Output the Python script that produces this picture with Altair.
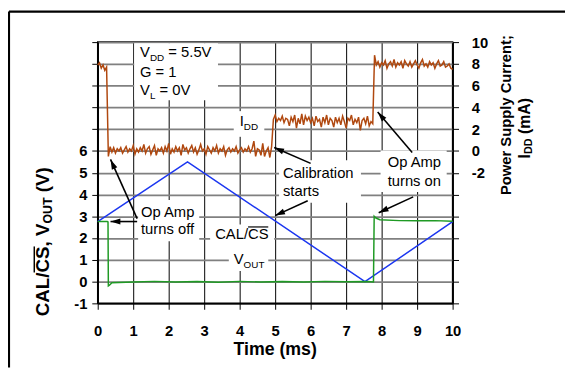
import math
import altair as alt
import pandas as pd

# ---------------- data ----------------
# CAL/CS (blue, left axis, V)
cal_t = [0.0, 2.53, 7.53, 10.0]
cal_v = [2.75, 5.50, 0.00, 2.75]

# VOUT (green, left axis, V)
vout_t = [0.00, 0.27, 0.29, 0.30, 0.33, 0.40, 1.00, 1.60, 2.20, 2.80,
          3.40, 4.00, 4.60, 5.20, 5.80, 6.40, 7.00, 7.60, 7.77, 7.79,
          7.84, 7.95, 8.50, 9.00, 9.50, 10.00]
vout_v = [2.76, 2.76, 2.74, -0.20, -0.17, -0.05, -0.02, 0.01, -0.02, 0.00,
          -0.03, 0.01, -0.02, 0.00, -0.02, 0.01, -0.01, 0.00, -0.02, 3.00,
          2.92, 2.84, 2.80, 2.79, 2.80, 2.77]

# IDD (brown, right axis, mA), sampled every 0.05 ms, in four segments
idd_step = 0.05
idd_seg_start = [0.00, 0.30, 4.95, 7.80]
idd_seg_a = [7.9, 8.1, 7.6, 7.9, 7.4, 7.7]
idd_seg_b = [-0.5, 0.4, -0.1, 0.3, -0.2, 0.2, 0.0, 0.3, -0.2, 0.1,
             0.4, -0.1, 0.2, 0.0, 0.5, -0.3, 0.2, -0.1, 0.3, 0.0,
             0.6, -0.2, 0.2, 0.4, -0.3, 0.1, 0.5, -0.4, 0.2, 0.0,
             0.3, -0.2, 0.4, 0.0, 0.7, -0.3, 0.2, -0.1, 0.4, 0.0,
             0.3, -0.4, 0.6, 0.1, 0.3, -0.2, 0.2, 0.5, -0.1, 0.3,
             -0.3, 0.1, 0.6, 0.0, 0.2, -0.3, 0.4, 0.1, -0.2, 0.3,
             0.0, 0.5, -0.2, 0.2, 0.0, 0.4, -0.4, 0.1, 0.3, -0.1,
             0.2, 0.0, 0.4, -0.2, 0.1, 0.3, -0.1, 0.2, 0.0, 0.4,
             -0.1, 0.2, 0.9, -0.5, 0.2, 0.1, -0.4, 0.7, -0.5, 0.0,
             0.3, -0.6, 0.4]
idd_seg_c = [2.9, 3.3, 2.7, 3.0, 2.8, 3.2, 2.6, 3.0, 2.9, 2.3,
             3.1, 2.7, 3.3, 2.1, 3.0, 2.5, 3.4, 2.4, 3.2, 2.8,
             3.1, 2.6, 3.0, 2.3, 3.2, 2.7, 2.9, 2.2, 3.1, 2.6,
             3.3, 2.4, 3.0, 2.8, 2.2, 3.1, 2.6, 3.0, 2.4, 3.2,
             2.7, 2.1, 3.0, 2.8, 3.3, 2.4, 2.9, 2.6, 3.1, 1.9,
             2.8, 3.0, 2.5, 3.2, 2.3, 2.7, 2.5]
idd_seg_d = [8.8, 7.9, 8.2, 7.7, 8.1, 7.9, 8.3, 7.6, 8.0, 8.2,
             7.8, 8.4, 7.7, 8.1, 7.9, 8.2, 7.6, 8.3, 8.0, 7.8,
             8.2, 7.7, 8.0, 8.3, 7.9, 7.6, 8.1, 8.4, 7.8, 8.0,
             7.7, 8.2, 7.9, 8.1, 7.6, 8.0, 8.3, 7.8, 7.9, 8.2,
             7.7, 7.8, 8.0, 7.6, 7.5]

# axis ticks
x_ticks = list(range(0, 11))
yl_ticks = list(range(-1, 12))
yr_ticks = list(range(-14, 11, 2))

# annotations (data units: time in ms, left axis in V)
note_txt = ["V", "= 5.5V", "G = 1", "V", "= 0V", "I", "Calibration", "starts",
            "Op Amp", "turns on", "Op Amp", "turns off", "CAL/CS", "V"]
note_t = [1.19, 1.99, 1.19, 1.19, 1.744, 4.00, 5.22, 5.22,
          8.17, 8.17, 1.22, 1.22, 3.31, 3.83]
note_v = [10.55, 10.55, 9.64, 8.78, 8.78, 7.38, 4.98, 4.16,
          5.48, 4.62, 3.21, 2.40, 2.17, 1.04]
sub_txt = ["DD", "L", "DD", "OUT"]
sub_t = [1.472, 1.472, 4.117, 4.111]
sub_v = [10.55, 8.78, 7.38, 1.04]

box_t = [1.028, 3.833, 5.11, 7.97, 1.139, 3.167, 3.694]
box_t2 = [3.389, 4.694, 7.417, 9.833, 2.861, 4.972, 4.806]
box_v = [10.95, 7.83, 5.57, 6.02, 3.75, 2.62, 1.62]
box_v2 = [8.33, 6.65, 3.62, 4.12, 1.85, 1.58, 0.49]

arrow_t = [1.111, 1.111, 6.000, 5.917, 8.861, 8.889]
arrow_v = [2.894, 2.758, 5.430, 3.709, 5.928, 3.890]
arrow_t2 = [0.361, 0.361, 4.972, 5.000, 7.889, 7.917]
arrow_v2 = [5.611, 2.758, 6.155, 3.030, 7.785, 3.166]

# ---------------- layout ----------------
W, H = 360, 265
PAD = {"left": 91, "top": 32, "right": 114, "bottom": 65}
X_DOM = [0, 10]
YL_DOM = [-1, 11]
YR_DOM = [-14, 10]
FONT = "Liberation Sans"
BROWN = "#B0480F"
BLUE = "#1B36F0"
GREEN = "#1F9A24"

px_t = W / (X_DOM[1] - X_DOM[0])
px_v = H / (YL_DOM[1] - YL_DOM[0])

idd_t, idd_v = [], []
for s, seg in zip(idd_seg_start, [idd_seg_a, idd_seg_b, idd_seg_c, idd_seg_d]):
    for i, val in enumerate(seg):
        idd_t.append(round(s + i * idd_step, 3))
        idd_v.append(val)

cal_df = pd.DataFrame({"t": cal_t, "v": cal_v})
vout_df = pd.DataFrame({"t": vout_t, "v": vout_v})
idd_df = pd.DataFrame({"t": idd_t, "i": idd_v})
note_df = pd.DataFrame({"t": note_t, "v": note_v, "txt": note_txt})
sub_df = pd.DataFrame({"t": sub_t, "v": sub_v, "txt": sub_txt})
box_df = pd.DataFrame({"t": box_t, "t2": box_t2, "v": box_v, "v2": box_v2})
ang = []
for a, b, c, d in zip(arrow_t, arrow_v, arrow_t2, arrow_v2):
    dx = (c - a) * px_t
    dy = -(d - b) * px_v
    ang.append(math.degrees(math.atan2(dx, -dy)) % 360)
arrow_df = pd.DataFrame({"t": arrow_t, "v": arrow_v, "t2": arrow_t2,
                         "v2": arrow_v2, "ang": ang})

x_scale = alt.Scale(domain=X_DOM, nice=False, zero=False)
yl_scale = alt.Scale(domain=YL_DOM, nice=False, zero=False)
yr_scale = alt.Scale(domain=YR_DOM, nice=False, zero=False)

lab = dict(labelFont=FONT, labelFontWeight="bold", labelFontSize=15,
           labelColor="black", tickColor="black", tickWidth=1, tickSize=6,
           domainColor="black", domainWidth=1.5, title=None, labelOverlap=False)
x_axis = alt.Axis(values=x_ticks, grid=True, gridColor="black", gridWidth=1,
                  labelPadding=15, labelFlush=False,
                  labelExpr="'' + datum.value", **lab)
yl_axis = alt.Axis(values=yl_ticks, grid=True, gridColor="#808080", gridWidth=1.8,
                   labelPadding=5,
                   labelExpr="datum.value <= 6 ? '' + datum.value : ''", **lab)
yr_axis = alt.Axis(values=yr_ticks, grid=False, orient="right", labelPadding=13,
                   labelExpr="datum.value >= -2 ? '' + datum.value : ''", **lab)

X = alt.X("t:Q", scale=x_scale, axis=x_axis)
YL = alt.Y("v:Q", scale=yl_scale, axis=yl_axis)

cal_line = alt.Chart(cal_df).mark_line(color=BLUE, strokeWidth=1.5).encode(x=X, y=YL)
vout_line = alt.Chart(vout_df).mark_line(color=GREEN, strokeWidth=1.5).encode(x=X, y=YL)
boxes = alt.Chart(box_df).mark_rect(color="white", opacity=1).encode(
    x=X, x2="t2:Q", y=YL, y2="v2:Q")
notes = alt.Chart(note_df).mark_text(font=FONT, fontSize=15, align="left",
                                     baseline="middle", color="black").encode(
    x=X, y=YL, text="txt:N")
subs = alt.Chart(sub_df).mark_text(font=FONT, fontSize=10, align="left",
                                   baseline="middle", dy=6, color="black").encode(
    x=X, y=YL, text="txt:N")
arrows = alt.Chart(arrow_df).mark_rule(color="black", strokeWidth=1.6).encode(
    x=X, y=YL, x2="t2:Q", y2="v2:Q")
heads = alt.Chart(arrow_df).mark_point(shape="M0,0L-0.6,2L0.6,2Z", size=100,
                                       filled=True, color="black", opacity=1).encode(
    x=alt.X("t2:Q", scale=x_scale, axis=x_axis),
    y=alt.Y("v2:Q", scale=yl_scale, axis=yl_axis),
    angle=alt.Angle("ang:Q", scale=None))

one = pd.DataFrame({"k": [0]})


def ptext(txt, px, py, size, angle=0, align="left", weight="bold"):
    return alt.Chart(one).mark_text(
        text=txt, font=FONT, fontSize=size, fontWeight=weight, align=align,
        baseline="middle", angle=angle, color="black").encode(
        x=alt.value(px - 99), y=alt.value(py - 40))


def prule(x1, y1, x2, y2, w):
    return alt.Chart(one).mark_rule(color="black", strokeWidth=w).encode(
        x=alt.value(x1 - 99), x2=alt.value(x2 - 99),
        y=alt.value(y1 - 40), y2=alt.value(y2 - 40))


# overline on "CS" of the CAL/CS annotation (page pixels)
cs_over = prule(251.5, 227.5, 272.0, 227.5, 1.2)

# left axis title: CAL/CS, VOUT (V) -- rotated, starting at bottom
LT = 19
lt_x, lt_y = 44, 318
w1 = 4.945 * LT
w2 = 2.111 * 12.5
left_title = [
    ptext("CAL/CS, V", lt_x, lt_y, LT, angle=270),
    ptext("OUT", lt_x + 4.5, lt_y - w1, 12.5, angle=270),
    ptext("(V)", lt_x, lt_y - w1 - w2 - 0.278 * LT, LT, angle=270),
    prule(lt_x - 0.36 * LT - 2.5, lt_y - 2.333 * LT, lt_x - 0.36 * LT - 2.5,
          lt_y - 2.333 * LT - 1.389 * LT, 1.5),
]

# right axis title
RT = 15
right_title = [
    ptext("Power Supply Current;", 513, 114, RT, angle=270, align="center"),
    ptext("I", 533, 158, 16, angle=270),
    ptext("DD", 537, 158 - 0.278 * 16, 11, angle=270),
    ptext("(mA)", 533, 158 - 0.278 * 16 - 1.444 * 11 - 0.278 * 16, 16, angle=270),
]

x_title = ptext("Time (ms)", 279, 352, 18, align="center")

# page border lines
border = [prule(9, 9, 573, 9, 2.2), prule(9, 9, 9, 370, 2.2)]

left = alt.layer(cal_line, boxes, vout_line, arrows, heads, notes, subs, cs_over,
                 x_title, *left_title, *right_title, *border)

right = alt.Chart(idd_df).mark_line(color=BROWN, strokeWidth=1.5).encode(
    x=alt.X("t:Q", scale=x_scale, axis=x_axis),
    y=alt.Y("i:Q", scale=yr_scale, axis=yr_axis))

chart = alt.layer(left, right).resolve_scale(y="independent").properties(
    width=W, height=H, autosize=alt.AutoSizeParams(type="none"),
    padding=PAD, background="white",
).configure_view(stroke="black", strokeWidth=1.5).configure_axis(labelOverlap=False)

chart.save("out.html", embed_options={"renderer": "svg", "actions": False})
